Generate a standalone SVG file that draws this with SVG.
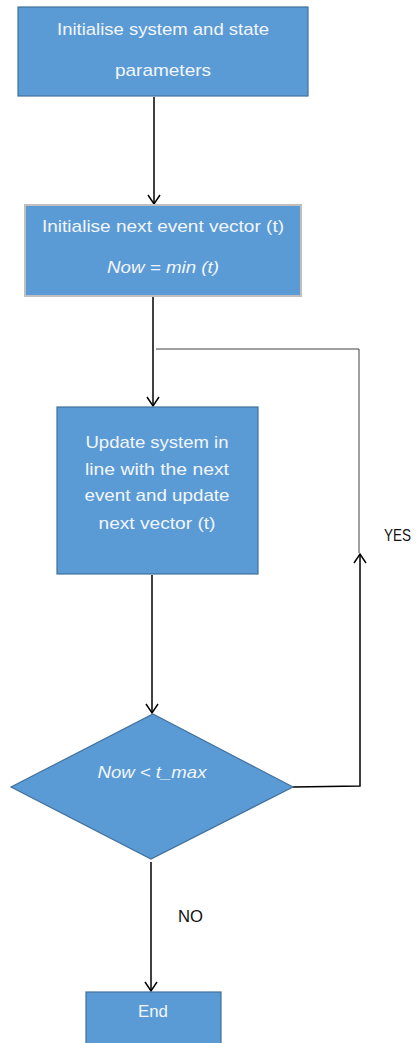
<svg xmlns="http://www.w3.org/2000/svg" width="417" height="1043" viewBox="0 0 417 1043">
<style>
.box{fill:#5B9BD5;stroke:#41719C;stroke-width:1.2}
.box2{fill:#5B9BD5;stroke:#BFBFBF;stroke-width:2}
.t{font-family:"Liberation Sans",Arial,sans-serif;font-size:17px;fill:#F2F6FC;text-anchor:middle}
.i{font-style:italic}
.lbl{font-family:"Liberation Sans",Arial,sans-serif;font-size:17px;fill:#111}
.c{fill:none;stroke:#000;stroke-width:1.5}
.g{fill:none;stroke:#404040;stroke-width:1}
.ah{fill:none;stroke:#000;stroke-width:1.5}
</style>
<g id="connectors">
<line class="c" x1="154" y1="97" x2="154" y2="204"/>
<polyline class="ah" points="148,195 154,204 160,195"/>
<line class="c" x1="153" y1="297" x2="153" y2="406"/>
<polyline class="ah" points="147,397 153,406 159,397"/>
<polyline class="g" points="156,349 359,349 359,553"/>
<polyline class="c" points="293,787 360,786 360,554"/>
<polyline class="ah" points="354,563 360,554 366,563"/>
<line class="c" x1="152" y1="575" x2="152" y2="713"/>
<polyline class="ah" points="146,704 152,713 158,704"/>
<line class="c" x1="151" y1="862" x2="151" y2="991"/>
<polyline class="ah" points="145,982 151,991 157,982"/>
<text class="lbl" x="178" y="922" textLength="25" lengthAdjust="spacingAndGlyphs">NO</text>
<text class="lbl" x="384" y="541" font-size="16" textLength="27" lengthAdjust="spacingAndGlyphs">YES</text>
</g>
<g id="init">
<rect class="box" x="18" y="7" width="290" height="89"/>
<text class="t" x="163" y="35" textLength="212" lengthAdjust="spacingAndGlyphs">Initialise system and state</text>
<text class="t" x="163" y="76" textLength="96" lengthAdjust="spacingAndGlyphs">parameters</text>
</g>
<g id="nextevent">
<rect class="box2" x="25" y="205" width="276" height="91"/>
<text class="t" x="163" y="232" textLength="242" lengthAdjust="spacingAndGlyphs">Initialise next event vector (t)</text>
<text class="t i" x="163" y="273" textLength="112" lengthAdjust="spacingAndGlyphs">Now = min (t)</text>
</g>
<g id="update">
<rect class="box" x="57" y="407" width="201" height="167"/>
<text class="t" x="157" y="448" textLength="143" lengthAdjust="spacingAndGlyphs">Update system in</text>
<text class="t" x="157" y="475" textLength="144" lengthAdjust="spacingAndGlyphs">line with the next</text>
<text class="t" x="157" y="501" textLength="145" lengthAdjust="spacingAndGlyphs">event and update</text>
<text class="t" x="157" y="529" textLength="117" lengthAdjust="spacingAndGlyphs">next vector (t)</text>
</g>
<g id="decision">
<polygon class="box" points="153,714 293,787 151,859 11,787"/>
<text class="t i" x="152" y="778" textLength="109" lengthAdjust="spacingAndGlyphs">Now &lt; t_max</text>
</g>
<g id="end">
<rect class="box" x="86" y="992" width="135" height="60"/>
<text class="t" x="153" y="1017" textLength="30" lengthAdjust="spacingAndGlyphs">End</text>
</g>
</svg>
